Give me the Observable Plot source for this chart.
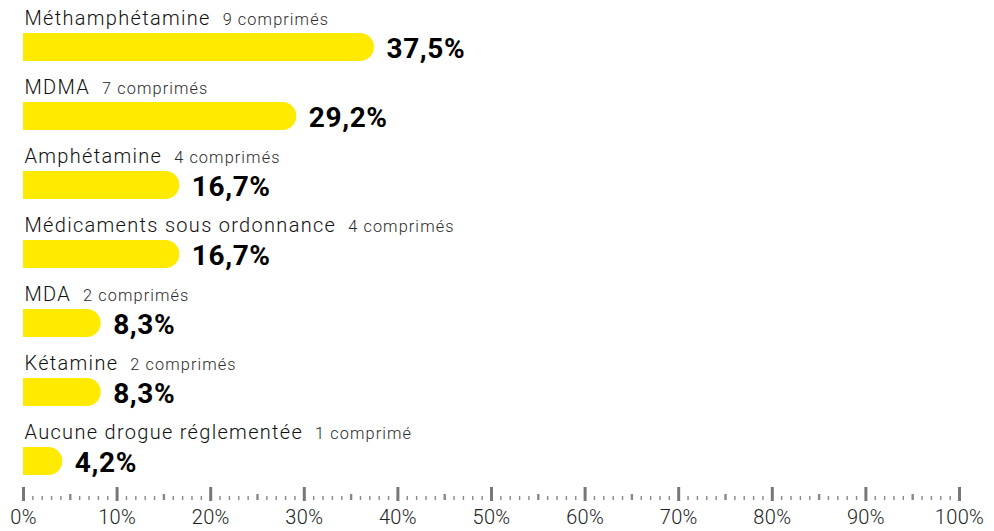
<!DOCTYPE html>
<html>
<head>
<meta charset="utf-8">
<script src="https://cdn.jsdelivr.net/npm/d3@7"></script>
<script src="https://cdn.jsdelivr.net/npm/@observablehq/plot@0.6"></script>
<style>
  html, body { margin: 0; padding: 0; background: #fff; }
  #chart svg { display: block; }
  .lbl text { letter-spacing: 1.3px; }
  .cnt text { letter-spacing: 1.1px; }
  .pct text { letter-spacing: 0.6px; }
  .axlbl text { letter-spacing: 0.3px; }
</style>
</head>
<body>
<div id="chart"></div>
<script>
const categories = ["Méthamphétamine", "MDMA", "Amphétamine", "Médicaments sous ordonnance", "MDA", "Kétamine", "Aucune drogue réglementée"];
const countLabels = ["9 comprimés", "7 comprimés", "4 comprimés", "4 comprimés", "2 comprimés", "2 comprimés", "1 comprimé"];
const values = [37.5, 29.2, 16.7, 16.7, 8.3, 8.3, 4.2];
const majorTicks = [0, 10, 20, 30, 40, 50, 60, 70, 80, 90, 100];
const minorTicks = d3.range(0, 101).filter(d => d % 10 !== 0 && d % 5 !== 0);
const midTicks = [5, 15, 25, 35, 45, 55, 65, 75, 85, 95];

const W = 994, H = 531;
const marginLeft = 23, marginRight = 35;
const pxPerUnit = (W - marginLeft - marginRight) / 100;

const ctx = document.createElement("canvas").getContext("2d");
ctx.font = "300 20px Roboto";
const LS = 1.3;

const data = categories.map((c, i) => ({
  cat: c,
  count: countLabels[i],
  value: values[i],
  countX: (1 + ctx.measureText(c).width + LS * c.length + 12) / pxPerUnit
}));

const fmt = v => v.toFixed(1).replace(".", ",") + "%";

const chart = Plot.plot({
  width: W,
  height: H,
  marginLeft, marginRight,
  marginTop: 0,
  marginBottom: 44,
  x: {domain: [0, 100], axis: null},
  y: {type: "band", domain: categories, range: [11.35, 496.65], paddingInner: 0.596, paddingOuter: 0.298, axis: null},
  style: {fontFamily: "Roboto, sans-serif", background: "#fff"},
  marks: [
    Plot.barX(data, {x1: 0, x2: "value", y: "cat", fill: "#FFEA00", rx: 14}),
    Plot.barX(data, {x1: 0, x2: d => d.value / 2, y: "cat", fill: "#FFEA00"}),
    Plot.text(data, {x: 0, y: "cat", text: "cat", textAnchor: "start", dx: 1, dy: -28.5,
      fontSize: 20, fontWeight: 300, fill: "#111", className: "lbl"}),
    Plot.text(data, {x: "countX", y: "cat", text: "count", textAnchor: "start", dy: -27.5,
      fontSize: 16.3, fontWeight: 300, fill: "#2a2a2a", className: "cnt"}),
    Plot.text(data, {x: "value", y: "cat", text: d => fmt(d.value), textAnchor: "start", dx: 12, dy: 1.5,
      fontSize: 28, fontWeight: 700, fill: "#000", className: "pct"}),
    Plot.axisX({ticks: minorTicks, tickSize: 4, dy: 9, tickFormat: () => "", stroke: "#888", strokeWidth: 1.4}),
    Plot.axisX({ticks: midTicks, tickSize: 6, dy: 7, tickFormat: () => "", stroke: "#888", strokeWidth: 2.4}),
    Plot.axisX({ticks: majorTicks, tickSize: 14, tickPadding: 8, tickFormat: d => d + "%",
      stroke: "#777", strokeWidth: 3, fontSize: 20, fontWeight: 300, fill: "#222", className: "axlbl"})
  ]
});
document.getElementById("chart").appendChild(chart);
</script>
</body>
</html>
